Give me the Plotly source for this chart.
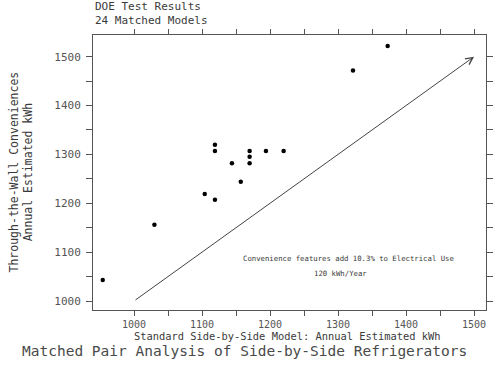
import plotly.graph_objects as go

# Data
standard_kwh = [954, 1030, 1104, 1119, 1119, 1119, 1144, 1157, 1170, 1170, 1170, 1194, 1220, 1322, 1373]
through_wall_kwh = [1043, 1156, 1219, 1207, 1320, 1307, 1282, 1244, 1307, 1295, 1282, 1307, 1307, 1472, 1522]

tick_vals = [1000, 1050, 1100, 1150, 1200, 1250, 1300, 1350, 1400, 1450, 1500]
tick_text = ["1000", "", "1100", "", "1200", "", "1300", "", "1400", "", "1500"]

ref_line_start = [1000, 1000]
ref_line_end = [1500, 1500]

note_line1 = "Convenience features add 10.3% to Electrical Use"
note_line2 = "120 kWh/Year"
note1_pos = [1315, 1088]
note2_pos = [1303, 1057]

x_title = "Standard Side-by-Side Model: Annual Estimated kWh"
y_title = "Through-the-Wall Conveniences<br>Annual Estimated kWh"
main_title = "Matched Pair Analysis of Side-by-Side Refrigerators"
corner_text = "DOE Test Results<br>24 Matched Models"

FONT = "DejaVu Sans Mono"
TXT = "#3a3a3a"
AX = "#555555"

fig = go.Figure()
fig.add_trace(go.Scatter(
    x=standard_kwh, y=through_wall_kwh, mode="markers",
    marker=dict(color="black", size=4.5), showlegend=False, hoverinfo="skip"))

fig.add_annotation(
    x=ref_line_end[0], y=ref_line_end[1], ax=ref_line_start[0], ay=ref_line_start[1],
    xref="x", yref="y", axref="x", ayref="y", text="", showarrow=True,
    arrowhead=5, arrowsize=1.4, arrowwidth=1, arrowcolor="#444444")

fig.add_annotation(x=note1_pos[0], y=note1_pos[1], xref="x", yref="y", text=note_line1,
                   showarrow=False, font=dict(family=FONT, size=7.3, color=TXT))
fig.add_annotation(x=note2_pos[0], y=note2_pos[1], xref="x", yref="y", text=note_line2,
                   showarrow=False, font=dict(family=FONT, size=7.3, color=TXT))

fig.add_annotation(x=0, y=1, xref="paper", yref="paper", xanchor="left", yanchor="bottom",
                   yshift=6, align="left", text=corner_text,
                   showarrow=False, font=dict(family=FONT, size=11, color=TXT))

# x-axis title
fig.add_annotation(x=0.5, y=0, xref="paper", yref="paper", xanchor="center", yanchor="middle",
                   yshift=-26, xshift=-2, text=x_title,
                   showarrow=False, font=dict(family=FONT, size=10.4, color=TXT))
# y-axis title
fig.add_annotation(x=0, y=0.5, xref="paper", yref="paper", xanchor="center", yanchor="middle",
                   xshift=-72, textangle=-90, text=y_title,
                   showarrow=False, font=dict(family=FONT, size=11.5, color=TXT))
# main title
fig.add_annotation(x=0.5, y=0, xref="paper", yref="paper", xanchor="center", yanchor="middle",
                   yshift=-41, xshift=-45, text=main_title,
                   showarrow=False, font=dict(family=FONT, size=14.5, color="#4a4a4a"))

fig.update_xaxes(
    range=[939.7, 1517.6], tickvals=tick_vals, ticktext=tick_text,
    showline=True, linecolor=AX, linewidth=1, mirror="allticks",
    ticks="outside", ticklen=5, tickcolor=AX, showgrid=False, zeroline=False,
    automargin=False, ticklabelstandoff=0,
    tickfont=dict(family=FONT, size=10, color="#555555"))
fig.update_yaxes(
    range=[981.6, 1544.4], tickvals=tick_vals, ticktext=tick_text,
    showline=True, linecolor=AX, linewidth=1, mirror="allticks",
    ticks="outside", ticklen=6, tickcolor=AX, showgrid=False, zeroline=False,
    automargin=False, ticklabelstandoff=3,
    tickfont=dict(family=FONT, size=11, color="#555555"))

fig.update_layout(
    width=500, height=372, margin=dict(l=93, r=14, t=35, b=62, autoexpand=False),
    paper_bgcolor="white", plot_bgcolor="white", showlegend=False)

fig.write_html("out.html", config={"displayModeBar": False},
               post_script="document.body.style.margin='0';")
